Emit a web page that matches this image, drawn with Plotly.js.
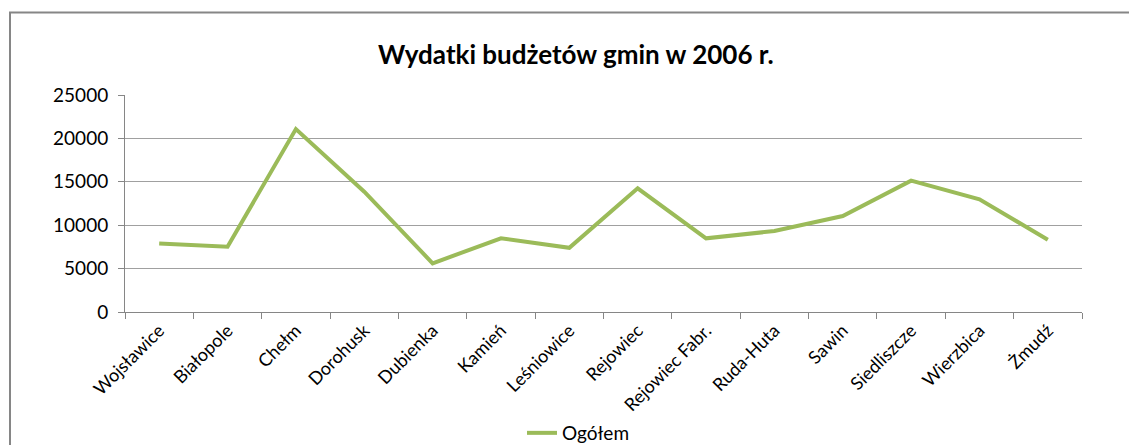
<!DOCTYPE html>
<html><head><meta charset="utf-8">
<script src="https://cdn.plot.ly/plotly-3.0.1.min.js"></script>
<style>html,body{margin:0;padding:0;background:#fff;overflow:hidden}</style>
</head><body>
<div id="chart" style="width:1129px;height:445px"></div>
<script>
const categories = ["Wojsławice","Białopole","Chełm","Dorohusk","Dubienka","Kamień","Leśniowice","Rejowiec","Rejowiec Fabr.","Ruda-Huta","Sawin","Siedliszcze","Wierzbica","Żmudź"];
const ogolem = [7900, 7530, 21080, 13860, 5610, 8490, 7400, 14250, 8490, 9330, 11060, 15130, 12980, 8330];
const yTicks = [0, 5000, 10000, 15000, 20000, 25000];
const seriesName = "Ogółem";
const titleText = "Wydatki budżetów gmin w 2006 r.";

const L = 125, R = 47, T = 95, B = 133, W = 1129, H = 445;
const pw = W - L - R, ph = H - T - B;
const font = "Lato, 'Open Sans', sans-serif";

Plotly.newPlot("chart", [{
  x: categories, y: ogolem, name: seriesName, type: "scatter", mode: "lines",
  line: {color: "#9BBB59", width: 4}
}], {
  width: W, height: H,
  margin: {l: L, r: R, t: T, b: B, pad: 0, autoexpand: false},
  paper_bgcolor: "#fff", plot_bgcolor: "#fff",
  font: {family: font, size: 18, color: "#000"},
  title: {text: "<b>" + titleText + "</b>", font: {family: font, size: 26, color: "#000"}, x: 0.51, xanchor: "center", y: 1 - 55 / H, yanchor: "middle"},
  xaxis: {type: "category", tickangle: -45, ticks: "outside", ticklen: 6, tickcolor: "#868686",
          tickson: "boundaries", showline: true, linecolor: "#868686", linewidth: 1, showgrid: false,
          range: [-0.5, categories.length - 0.5], tickfont: {size: 18}, automargin: false},
  yaxis: {range: [0, 25000], tickvals: yTicks, ticktext: yTicks.map(String), ticks: "outside", ticklen: 6,
          tickcolor: "#868686", showline: true, linecolor: "#868686", linewidth: 1,
          gridcolor: "#A0A0A0", gridwidth: 1, zeroline: false, tickfont: {size: 19}, automargin: false,
          ticklabelstandoff: 6},
  showlegend: true,
  legend: {orientation: "h", x: (522 - L) / pw, xanchor: "left", y: -121 / ph, yanchor: "middle", font: {size: 19}, bgcolor: "rgba(0,0,0,0)"},
  shapes: [{type: "rect", xref: "paper", yref: "paper",
            x0: (10 - L) / pw, x1: (W + 20 - L) / pw, y0: -(H + 20 - T - ph) / ph, y1: 1 + (T - 12.5) / ph,
            line: {color: "#868686", width: 2}, fillcolor: "rgba(0,0,0,0)", layer: "below"}]
}, {displayModeBar: false, staticPlot: true});
</script>
</body></html>
